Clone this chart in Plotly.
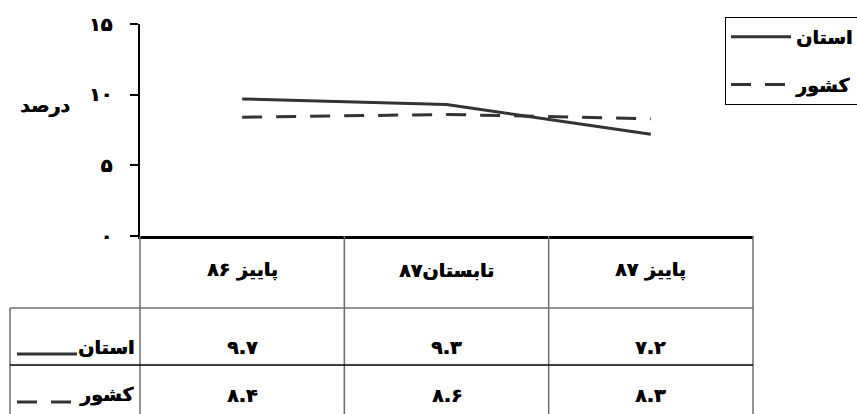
import plotly.graph_objects as go

# data
categories = ['پاییز ۸۶', 'تابستان۸۷', 'پاییز ۸۷']
ostan = [9.7, 9.3, 7.2]
keshvar = [8.4, 8.6, 8.3]
series_names = ['استان', 'کشور']
y_tick_vals = [0, 5, 10, 15]
y_tick_text = ['۰', '۵', '۱۰', '۱۵']
y_title = 'درصد'

FA = str.maketrans('0123456789', '۰۱۲۳۴۵۶۷۸۹')
def fa(v):
    return str(v).translate(FA)

W, H = 857, 414
L, R, T, B = 140, 104, 24, 178
PW, PH = W - L - R, H - T - B

def px_x(p):
    return (p - L) / PW

def px_y(p):
    return (H - B - p) / PH

FONT = 'DejaVu Sans'
FS = 19
SHADOW = '0.6px 0 0 black'   # thickens the arabic glyphs a bit
LINE_COL = '#333333'
DASH = '20px,14px'
TXT_SHIFT = -10  # arabic glyphs sit high in their box

def f(size=FS):
    return dict(family=FONT, size=size, color='black', weight='bold', shadow=SHADOW)

fig = go.Figure()
fig.add_trace(go.Scatter(x=categories, y=ostan, mode='lines', name=series_names[0],
                         line=dict(color=LINE_COL, width=3), legendgroup='a'))
fig.add_trace(go.Scatter(x=categories, y=keshvar, mode='lines', name=series_names[1],
                         line=dict(color=LINE_COL, width=3, dash=DASH), legendgroup='b'))

fig.update_layout(
    width=W, height=H,
    margin=dict(l=L, r=R, t=T, b=B, autoexpand=False),
    plot_bgcolor='white', paper_bgcolor='white',
    font=f(),
    legend=dict(x=px_x(725), y=px_y(17), xanchor='left', yanchor='top',
                bordercolor='black', borderwidth=1, bgcolor='white',
                tracegroupgap=20, traceorder='grouped', font=f(),
                itemwidth=60),
    showlegend=True,
)
fig.update_xaxes(type='category', range=[-0.5, 2.5], showticklabels=False,
                 showline=True, linecolor='black', linewidth=3, ticks='',
                 showgrid=False, zeroline=False)
fig.update_yaxes(range=[0, 15], tickvals=y_tick_vals, ticktext=y_tick_text,
                 showline=True, linecolor='black', linewidth=2,
                 ticks='outside', ticklen=8, tickwidth=2, tickcolor='black',
                 ticklabelstandoff=14, showgrid=False, zeroline=False,
                 tickfont=f())

# y title (horizontal)
fig.add_annotation(text=y_title, x=px_x(45), y=px_y(105), xref='paper', yref='paper',
                   xanchor='center', showarrow=False, font=f())

# data table under the plot
n = len(categories)
bounds = [L + i * PW / n for i in range(n + 1)]
grid = dict(color='#6e6e6e', width=1.5)
for b in bounds:
    fig.add_shape(type='line', xref='paper', yref='paper',
                  x0=px_x(b), x1=px_x(b), y0=px_y(H - B), y1=px_y(H + 2), line=grid)
fig.add_shape(type='line', xref='paper', yref='paper',
              x0=px_x(10), x1=px_x(10), y0=px_y(308), y1=px_y(H + 2), line=grid)
fig.add_shape(type='line', xref='paper', yref='paper',
              x0=px_x(10), x1=px_x(bounds[-1]), y0=px_y(308), y1=px_y(308), line=grid)
fig.add_shape(type='line', xref='paper', yref='paper',
              x0=px_x(10), x1=px_x(bounds[-1]), y0=px_y(365), y1=px_y(365),
              line=dict(color='black', width=1.5))

for c in categories:
    fig.add_annotation(text=c, x=c, y=px_y(273), xref='x', yref='paper', yshift=TXT_SHIFT,
                       showarrow=False, font=f())

rows = [(series_names[0], ostan, 'solid', 350), (series_names[1], keshvar, DASH, 398)]
for name, vals, dash, yc in rows:
    for c, v in zip(categories, vals):
        fig.add_annotation(text=fa(v), x=c, y=px_y(yc), xref='x', yref='paper',
                           yshift=TXT_SHIFT, showarrow=False, font=f())
    fig.add_annotation(text=name, x=px_x(136), y=px_y(yc), xref='paper', yref='paper',
                       xanchor='right', yshift=TXT_SHIFT, showarrow=False, font=f())
    fig.add_shape(type='line', xref='paper', yref='paper',
                  x0=px_x(17), x1=px_x(77), y0=px_y(yc + 4), y1=px_y(yc + 4),
                  line=dict(color=LINE_COL, width=3, dash=dash))

fig.write_html('out.html', config={'displayModeBar': False},
               post_script="document.body.style.margin='0';")
